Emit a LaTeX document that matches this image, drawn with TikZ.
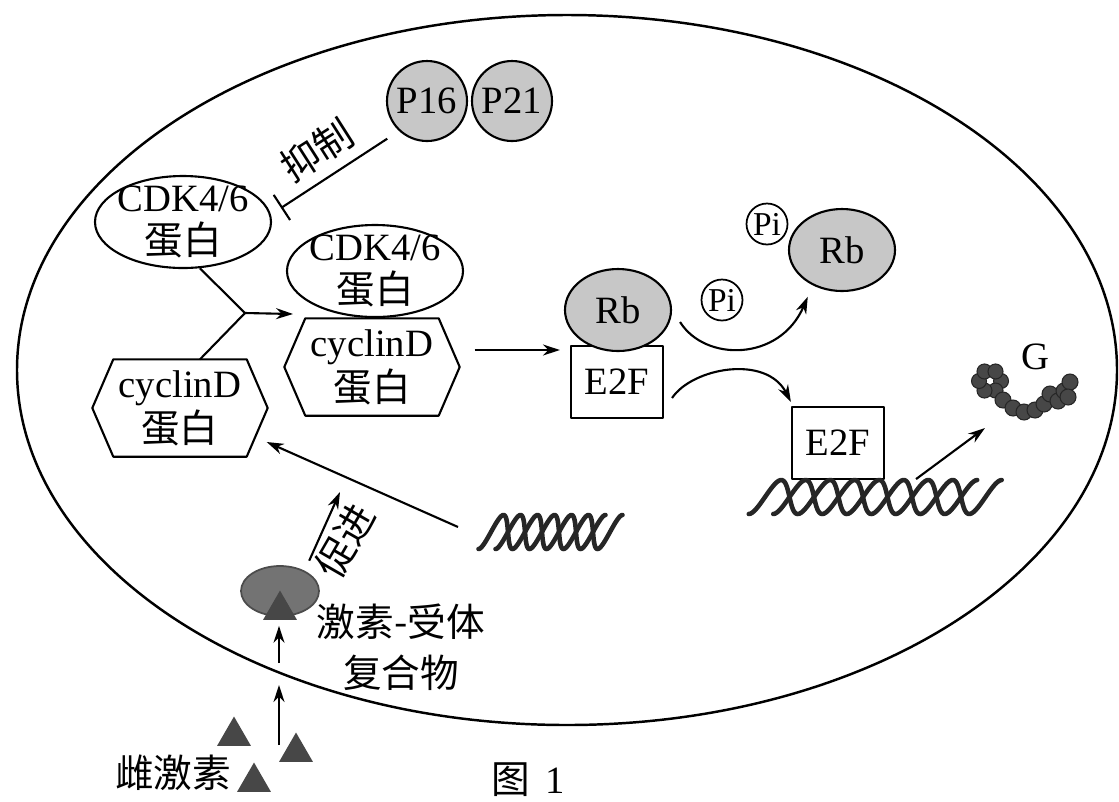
\documentclass[tikz,border=0pt]{standalone}
\usepackage{fontspec}
\setmainfont{Liberation Serif}
\newfontfamily\cjk{Noto Sans CJK SC}
\usetikzlibrary{arrows.meta,shapes.geometric}
\begin{document}
\begin{tikzpicture}[x=0.1mm, y=-0.1mm, line join=round,
        every node/.style={font=\fontsize{11}{12}\selectfont, align=center, inner sep=0pt},
        prot/.style={draw, ellipse, line width=0.6pt, minimum width=17.6mm, minimum height=9.2mm},
        hexbox/.style={minimum width=17.4mm, minimum height=9.6mm, font=\fontsize{11}{12.8}\selectfont},
        ball/.style={draw, circle, fill=black!22, line width=0.6pt, minimum size=8mm},
        rbball/.style={draw, ellipse, fill=black!22, line width=0.6pt, minimum width=10.6mm, minimum height=8.2mm},
        phos/.style={draw, circle, fill=white, line width=0.5pt, minimum size=4.1mm, font=\fontsize{9.5}{10}\selectfont},
        factor/.style={draw, fill=white, line width=0.6pt, minimum width=9.2mm, minimum height=7.2mm},
        horm/.style={regular polygon, regular polygon sides=3, fill=black!72, minimum size=3.9mm},
        arr/.style={line width=0.6pt, -{Stealth[length=1.7mm, width=1.1mm]}},
        strand/.style={line width=1.3pt, black!85, line cap=round},
        bead/.style={fill=black!72, draw=black!85, line width=0.3pt}]
    \useasboundingbox (0,0) rectangle (1119,801);
    \draw[line width=0.7pt] (567,370) ellipse [x radius=550, y radius=355];

    \node[ball] (p16) at (427,101) {P16};
    \node[ball] (p21) at (512,101) {P21};
    \node[prot, label={center:CDK4/6\\{\cjk 蛋白}}] (cdkL) at (183,222) {};
    \node[prot, label={center:CDK4/6\\{\cjk 蛋白}}] (cdkM) at (375,271) {};
    \node[hexbox] (cycL) at (180,408) {cyclinD\\{\cjk 蛋白}};
    \node[hexbox] (cycM) at (372,367) {cyclinD\\{\cjk 蛋白}};
    \foreach \n in {cycL,cycM} {
        \draw[line width=0.6pt] (\n.west) -- ([shift={(21,0)}]\n.north west) -- ([shift={(-21,0)}]\n.north east)
            -- (\n.east) -- ([shift={(-21,0)}]\n.south east) -- ([shift={(21,0)}]\n.south west) -- cycle;
    }

    \node[factor] (e2fL) at (617,382) {E2F};
    \node[rbball] (rbL) at (618,310) {Rb};
    \node[phos] (piL) at (722,300) {Pi};
    \node[rbball] (rbU) at (842,250) {Rb};
    \node[phos] (piU) at (767,224) {Pi};
    \node[factor] (e2fR) at (838,443) {E2F};
    \node (gLbl) at (1035,357) {G};

    \foreach \xa/\yc/\per/\na/\nb in {491/532/34/3.25/3.75, 765/497/49/4.25/4.75} {
        \draw[strand] plot[domain=-0.25:\na, samples=140, smooth] ({\xa+\per*\x+4*sin(360*\x)}, {\yc-17*sin(360*\x)});
        \draw[strand] plot[domain=0.25:\nb, samples=140, smooth] ({\xa+\per*\x-4*sin(360*\x)}, {\yc+17*sin(360*\x)});
    }
    \foreach \a in {0,60,...,300} { \fill[bead] (990,381) ++(\a:11) circle (7.5); }
    \foreach \bx/\by in {1003/400, 1013/408, 1024/412, 1035/410, 1044/404, 1050/394, 1058/401, 1064/391, 1070/382, 1068/397} {
        \fill[bead] (\bx,\by) circle (8);
    }

    \coordinate (inhEnd) at (281,208);
    \coordinate (merge) at (245,313);
    \coordinate (complexIn) at (293,314);
    \coordinate (dnaLend) at (458,527);
    \coordinate (geneG) at (985,428);
    \coordinate (promote) at (340,492);
    \coordinate (hIn) at (279,745);
    \coordinate (mem) at (279,673);

    \draw[line width=0.6pt, -{Bar[width=3mm]}, shorten <=1.4mm] (p16.227) -- (inhEnd);
    \draw[line width=0.6pt] (cdkL.290) -- (merge) -- ([shift={(20,0)}]cycL.north);
    \draw[arr] (merge) -- (complexIn);
    \draw[arr] ([shift={(15,-17)}]cycM.east) -- ([shift={(-10,-32)}]e2fL.west);
    \draw[arr] ([shift={(8,12)}]rbL.east) .. controls +(25,40) and +(-28,65) .. ([shift={(4,17)}]rbU.south west);
    \draw[arr] ([shift={(8,16)}]e2fL.east) .. controls +(20,-30) and +(-25,-48) .. ([shift={(0,-4)}]e2fR.north west);
    \draw[arr] ([shift={(31,-1)}]e2fR.south east) -- (geneG);
    \draw[arr] (dnaLend) -- ([shift={(-1,34)}]cycL.east);

    \node[draw=black!70, fill=black!55, ellipse, minimum width=7.8mm, minimum height=5mm, line width=0.5pt] (hrc) at (280,591) {};
    \node[horm] (tri0) at (280,610) {};
    \node[horm] (tri1) at (234,736) {};
    \node[horm] (tri2) at (296,752) {};
    \node[horm] (tri3) at (254,782) {};
    \draw[arr] (hIn) -- ([shift={(0,12)}]mem);
    \draw[arr] ([shift={(0,-10)}]mem) -- ([shift={(-1,9)}]hrc.south);
    \draw[arr] ([shift={(1,-12)}]hrc.north east) -- (promote);

    \node[rotate=32.5] (inhLbl) at (317,150) {\cjk 抑制};
    \node[rotate=60] (proLbl) at (345,541) {\cjk 促进};
    \node[font=\fontsize{11}{14.5}\selectfont] (hrcLbl) at (401,647) {{\cjk 激素-受体}\\{\cjk 复合物}};
    \node (femLbl) at (173,773) {\cjk 雌激素};
    \node (figLbl) at (528,780) {{\cjk 图}\hspace{1.5mm}1};
\end{tikzpicture}
\end{document}
